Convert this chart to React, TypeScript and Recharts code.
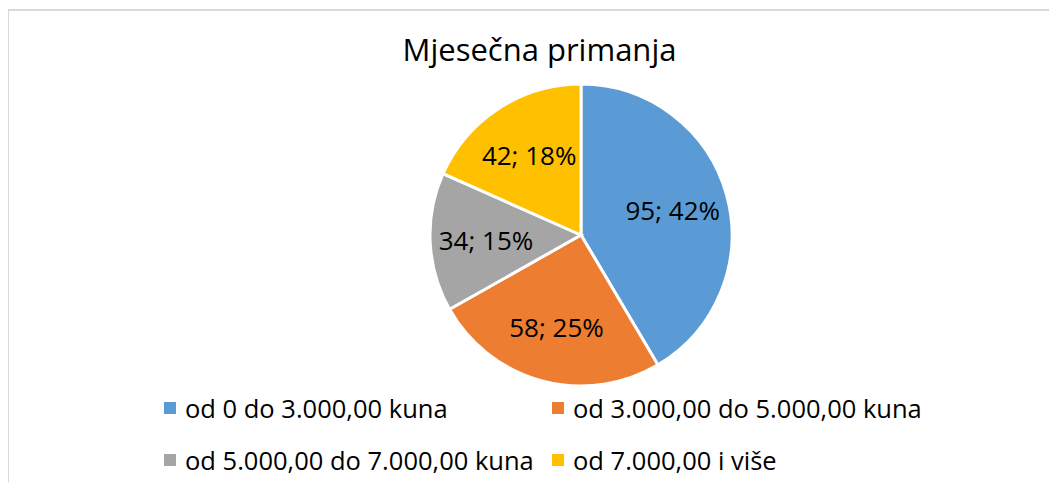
import React from 'react';
import { PieChart, Pie, Cell, Legend } from 'recharts';

const categories = [
  'od 0 do 3.000,00 kuna',
  'od 3.000,00 do 5.000,00 kuna',
  'od 5.000,00 do 7.000,00 kuna',
  'od 7.000,00 i više',
];
const counts = [95, 58, 34, 42];
const percentLabels = ['42%', '25%', '15%', '18%'];
const colors = ['#5B9BD5', '#ED7D31', '#A5A5A5', '#FFC000'];

const data = categories.map((name, i) => ({ name, value: counts[i], pct: percentLabels[i] }));

const FONT = '"Open Sans", "Noto Sans", sans-serif';
const RAD = Math.PI / 180;

const renderLabel = (props: any) => {
  const { cx, cy, midAngle, outerRadius, index } = props;
  const r = outerRadius * 0.63;
  const x = cx + r * Math.cos(-midAngle * RAD);
  const y = cy + r * Math.sin(-midAngle * RAD);
  return (
    <text x={x} y={y} textAnchor="middle" dominantBaseline="central" fill="#000" fontSize={26} fontFamily={FONT}>
      {`${data[index].value}; ${data[index].pct}`}
    </text>
  );
};

const legendPos = [
  { left: 164, top: 0 },
  { left: 552, top: 0 },
  { left: 164, top: 52 },
  { left: 552, top: 52 },
];

const LegendContent = () => (
  <div style={{ position: 'relative', width: 1057, height: 100 }}>
    {data.map((d, i) => (
      <div key={d.name} style={{ position: 'absolute', left: legendPos[i].left, top: legendPos[i].top, height: 30, display: 'flex', alignItems: 'center', whiteSpace: 'nowrap' }}>
        <span style={{ display: 'inline-block', width: 12, height: 12, background: colors[i], marginRight: 9 }} />
        <span style={{ fontFamily: FONT, fontSize: 25.5, color: '#000' }}>{d.name}</span>
      </div>
    ))}
  </div>
);

export default function App() {
  return (
    <div style={{ position: 'relative', margin: -8, width: 1057, height: 490, overflow: 'hidden', background: '#fff' }}>
      <div style={{ position: 'absolute', left: 7, top: 9, width: 1100, height: 600, border: '2px solid #D9D9D9', boxSizing: 'border-box' }} />
      <div style={{ position: 'absolute', left: 0, top: 29, width: 1079, textAlign: 'center', fontFamily: FONT, fontSize: 31, color: '#000', lineHeight: '40px' }}>
        Mjesečna primanja
      </div>
      <div style={{ position: 'absolute', left: 0, top: 0 }}>
        <PieChart width={1057} height={490} margin={{ top: 0, right: 0, bottom: 0, left: 0 }}>
          <Pie
            data={data}
            dataKey="value"
            nameKey="name"
            cx={581}
            cy={235}
            outerRadius={151}
            startAngle={90}
            endAngle={-270}
            stroke="#fff"
            strokeWidth={3}
            label={renderLabel}
            labelLine={false}
            isAnimationActive={false}
          >
            {data.map((d, i) => (
              <Cell key={d.name} fill={colors[i]} />
            ))}
          </Pie>
          <Legend content={<LegendContent />} wrapperStyle={{ position: 'absolute', left: 0, top: 393, width: 1057 }} />
        </PieChart>
      </div>
    </div>
  );
}
